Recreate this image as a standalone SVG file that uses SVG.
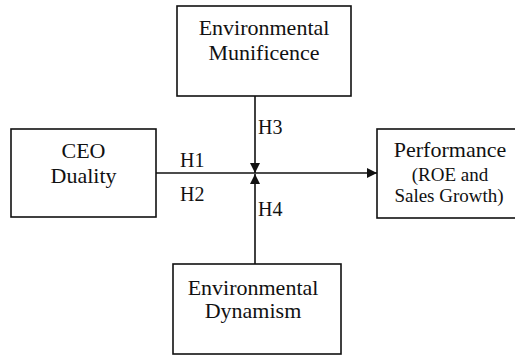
<svg xmlns="http://www.w3.org/2000/svg" width="515" height="355" viewBox="0 0 515 355">
<style>
.box{fill:#fff;stroke:#111;stroke-width:1.6}
text{font-family:'Liberation Serif','Times New Roman',Times,serif;fill:#111}
.t{font-size:22px;text-anchor:middle}
.s{font-size:19px}
.lbl{font-size:20px}
.ln{stroke:#111;stroke-width:1.6;fill:none}
</style>
<defs>
<marker id="ah" viewBox="0 0 10 10" refX="10" refY="5" markerWidth="10" markerHeight="10" markerUnits="userSpaceOnUse" orient="auto">
<path d="M0,0 L10,5 L0,10 Z" fill="#111"/>
</marker>
</defs>
<rect width="515" height="355" fill="#fff"/>
<g id="connectors" font-family="Liberation Serif, serif">
<line class="ln" x1="156" y1="173" x2="377" y2="173" marker-end="url(#ah)"/>
<line class="ln" x1="255" y1="96" x2="255" y2="173" marker-end="url(#ah)"/>
<line class="ln" x1="255" y1="264" x2="255" y2="174" marker-end="url(#ah)"/>
<text class="lbl" x="180" y="167">H1</text>
<text class="lbl" x="180" y="201">H2</text>
<text class="lbl" x="258" y="134">H3</text>
<text class="lbl" x="258" y="216">H4</text>
</g>
<g id="munificence">
<rect class="box" x="177" y="6" width="174" height="90"/>
<text class="t" x="264" y="35">Environmental</text>
<text class="t" x="264" y="60">Munificence</text>
</g>
<g id="ceo">
<rect class="box" x="11" y="129" width="145" height="88"/>
<text class="t" x="83.5" y="158">CEO</text>
<text class="t" x="83.5" y="183">Duality</text>
</g>
<g id="performance">
<rect class="box" x="377" y="129" width="145" height="89"/>
<text class="t" x="450" y="157">Performance</text>
<text class="t s" x="450" y="181">(ROE and</text>
<text class="t s" x="449" y="202">Sales Growth)</text>
</g>
<g id="dynamism">
<rect class="box" x="173" y="264" width="168" height="90"/>
<text class="t" x="253" y="295">Environmental</text>
<text class="t" x="253" y="318">Dynamism</text>
</g>
</svg>
